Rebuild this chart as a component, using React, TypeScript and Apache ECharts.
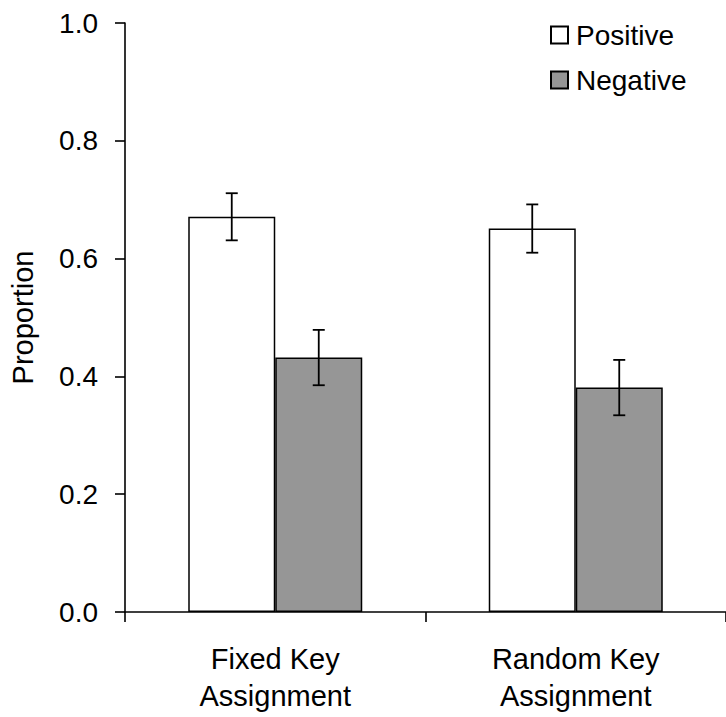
import React, { useEffect, useRef } from "react";
import * as echarts from "echarts";

const categories = ["Fixed Key\nAssignment", "Random Key\nAssignment"];
const seriesNames = ["Positive", "Negative"];
const positive = [0.671, 0.651];
const negative = [0.432, 0.381];
const positiveErr = [0.04, 0.041];
const negativeErr = [0.047, 0.047];
const yTicks = [0, 0.2, 0.4, 0.6, 0.8, 1.0];

const BAR_W = 87;
const FONT = "'Liberation Sans', Arial, sans-serif";

function errSeries(name: string, vals: number[], errs: number[], side: number) {
  return {
    type: "custom",
    name,
    z: 10,
    encode: { x: 0, y: [1, 2] },
    data: vals.map((v, i) => [i, v - errs[i], v + errs[i]]),
    renderItem: (params: any, api: any) => {
      const lo = api.coord([api.value(0), api.value(1)]);
      const hi = api.coord([api.value(0), api.value(2)]);
      const x = lo[0] + (side * BAR_W) / 2;
      const cap = 6;
      const st = { stroke: "#000", lineWidth: 1.8 };
      return {
        type: "group",
        children: [
          { type: "line", shape: { x1: x, y1: lo[1], x2: x, y2: hi[1] }, style: st },
          { type: "line", shape: { x1: x - cap, y1: lo[1], x2: x + cap, y2: lo[1] }, style: st },
          { type: "line", shape: { x1: x - cap, y1: hi[1], x2: x + cap, y2: hi[1] }, style: st },
        ],
      };
    },
  };
}

export default function App() {
  const ref = useRef<HTMLDivElement>(null);
  useEffect(() => {
    if (!ref.current) return;
    const chart = echarts.init(ref.current, null, { renderer: "svg" });
    chart.setOption({
      animation: false,
      backgroundColor: "#fff",
      textStyle: { fontFamily: FONT, color: "#000" },
      grid: { left: 122, top: 23, bottom: 105, right: -4, containLabel: false },
      legend: {
        data: seriesNames,
        orient: "vertical",
        left: 545,
        top: 16,
        itemWidth: 17,
        itemHeight: 17,
        itemGap: 17,
        icon: "rect",
        textStyle: { fontFamily: FONT, fontSize: 28, color: "#000", padding: [0, 0, 0, 3] },
      },
      xAxis: {
        type: "category",
        data: categories,
        boundaryGap: true,
        axisLine: { show: true, lineStyle: { color: "#000", width: 1.6 } },
        axisTick: { show: true, length: 10, inside: false, alignWithLabel: false, lineStyle: { color: "#000", width: 1.6 } },
        axisLabel: { fontFamily: FONT, fontSize: 29, color: "#000", lineHeight: 37, margin: 28, interval: 0 },
        splitLine: { show: false },
      },
      yAxis: {
        type: "value",
        min: yTicks[0],
        max: yTicks[yTicks.length - 1],
        interval: 0.2,
        name: "Proportion",
        nameLocation: "middle",
        nameGap: 88,
        nameRotate: 90,
        nameTextStyle: { fontFamily: FONT, fontSize: 29, color: "#000" },
        axisLine: { show: true, lineStyle: { color: "#000", width: 1.6 } },
        axisTick: { show: true, length: 10, inside: false, lineStyle: { color: "#000", width: 1.6 } },
        axisLabel: {
          fontFamily: FONT,
          fontSize: 28,
          color: "#000",
          margin: 27,
          formatter: (v: number) => v.toFixed(1),
        },
        splitLine: { show: false },
      },
      series: [
        {
          type: "bar",
          name: seriesNames[0],
          data: positive,
          barWidth: BAR_W,
          barGap: "0%",
          itemStyle: { color: "#ffffff", borderColor: "#000", borderWidth: 1.5 },
        },
        {
          type: "bar",
          name: seriesNames[1],
          data: negative,
          barWidth: BAR_W,
          barGap: "0%",
          itemStyle: { color: "#969696", borderColor: "#000", borderWidth: 1.5 },
        },
        errSeries("errPos", positive, positiveErr, -1),
        errSeries("errNeg", negative, negativeErr, 1),
      ],
    });
    return () => chart.dispose();
  }, []);
  return (
    <div
      ref={ref}
      style={{ position: "absolute", left: 0, top: 0, width: 726, height: 717 }}
    />
  );
}
